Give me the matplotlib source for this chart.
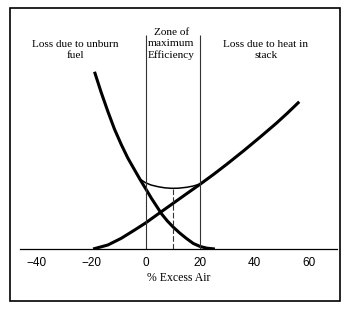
import matplotlib.pyplot as plt
from matplotlib.patches import Rectangle

# loss due to unburnt fuel (x = % excess air, y = relative loss)
fuel_x = [-18.7, -16.3, -13.8, -11.4, -8.9, -6.5, -4.0, -2.0, 0, 2.2,
          4.6, 5.9, 8, 10.1, 12.5, 15, 17.5, 20, 22.5, 25.4]
fuel_y = [177.3, 157, 137.5, 120, 104.5, 91, 79, 69.5, 60.5, 50.5,
          40.5, 35, 28, 22, 16, 10.5, 5.5, 2.5, 0.8, 0]

# loss due to heat in stack
stack_x = [-19.2, -13.8, -8.9, -4.0, 0, 5, 10, 15, 20, 25, 30,
           36, 42, 48, 52, 56.3]
stack_y = [0, 4, 10.7, 19, 26, 35.8, 45.5, 55.2, 64.8, 74.8, 85.3,
           98.4, 112, 126, 136, 147.3]

# combined loss, only drawn over the efficiency zone
total_x = [-2.1, 0, 2, 4.6, 7, 9.5, 12, 15, 17.5, 19.9]
total_y = [70, 66.3, 64, 62.3, 61.2, 60.7, 60.8, 61.7, 63, 65]

zone_edges = [0, 20]
zone_top = 214
optimum_x = 10
optimum_y = 60.7

xticks = [-40, -20, 0, 20, 40, 60]

serif = 'Liberation Serif'

fig = plt.figure(figsize=(3.49, 3.11), dpi=100)
ax = fig.add_axes([0.0573, 0.1994, 0.908, 0.736])

ax.plot(fuel_x, fuel_y, color='black', linewidth=2.2,
        solid_capstyle='butt', solid_joinstyle='round')
ax.plot(stack_x, stack_y, color='black', linewidth=2.2,
        solid_capstyle='butt', solid_joinstyle='round')
ax.plot(total_x, total_y, color='black', linewidth=1.1,
        solid_joinstyle='round')

ax.vlines(zone_edges, 0, zone_top, color='#333333', linewidth=0.8)
ax.vlines(optimum_x, 0, optimum_y, color='#333333', linewidth=0.8,
          linestyles=(0, (5, 2)))

ax.text(-25.6, 199.5, 'Loss due to unburn\nfuel', family=serif, fontsize=8.1,
        ha='center', va='center', linespacing=1.3)
ax.text(9.5, 205.5, 'Zone of\nmaximum\nEfficiency', family=serif, fontsize=8.1,
        ha='center', va='center', linespacing=1.3)
ax.text(44.1, 199.5, 'Loss due to heat in\nstack', family=serif, fontsize=8.1,
        ha='center', va='center', linespacing=1.3)

ax.set_xlim(-46, 70.1)
ax.set_ylim(0, 229)
ax.set_xticks(xticks)
ax.set_xticklabels([str(t).replace('-', '\u2212') for t in xticks],
                   family='Liberation Sans', fontsize=8.5)
ax.tick_params(axis='x', length=0, pad=5.5)
ax.set_yticks([])
for side in ['left', 'right', 'top']:
    ax.spines[side].set_visible(False)
ax.spines['bottom'].set_linewidth(0.9)
ax.patch.set_alpha(0)

ax.set_xlabel('% Excess Air', family=serif, fontsize=8.5, labelpad=2.5)

fig.patches.append(Rectangle((0.0287, 0.0322), 0.9456, 0.942,
                             transform=fig.transFigure, fill=False,
                             edgecolor='black', linewidth=1.2))

fig.savefig('out.png', dpi=100)
